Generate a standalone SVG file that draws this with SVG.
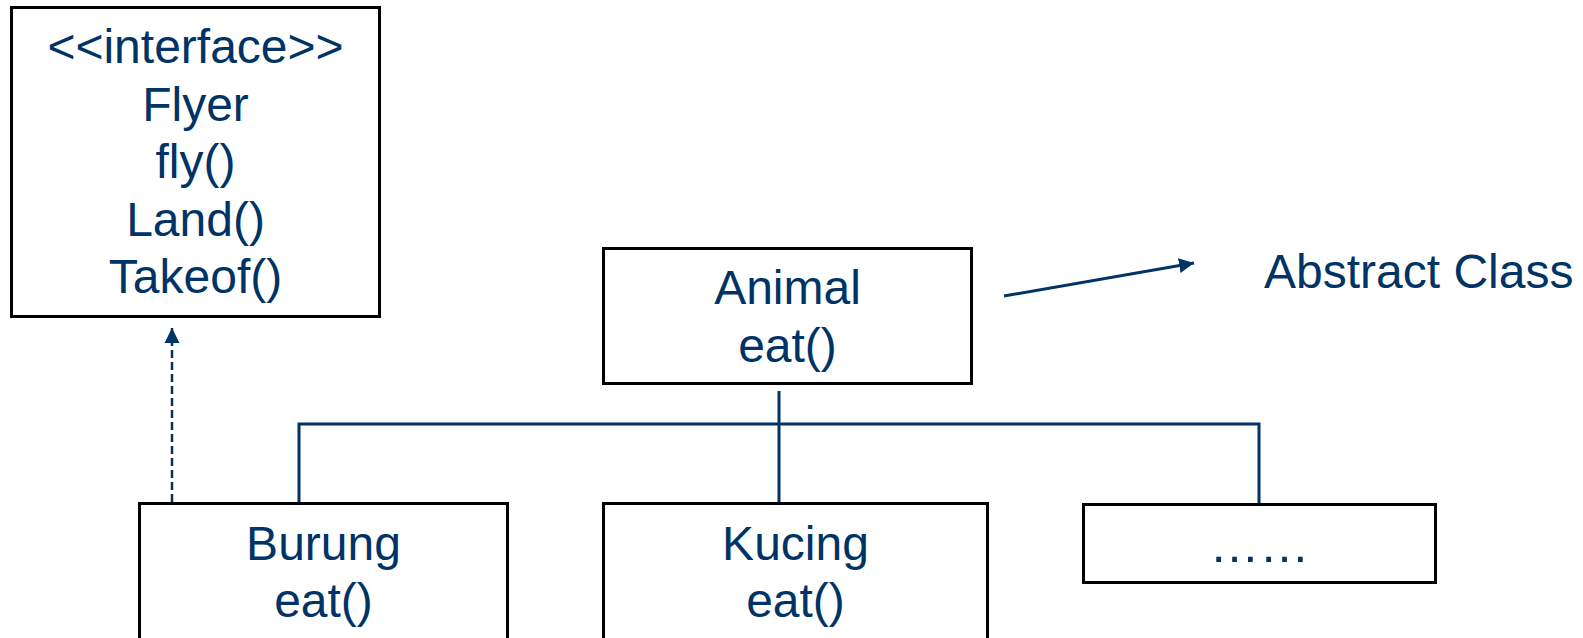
<svg xmlns="http://www.w3.org/2000/svg" width="1583" height="638" viewBox="0 0 1583 638">
<style>
  .box { fill: #ffffff; stroke: #000000; stroke-width: 3; }
  .t { font-family: "Liberation Sans", Arial, sans-serif; font-size: 48px; fill: #003366; text-anchor: middle; }
  .conn { fill: none; stroke: #003366; stroke-width: 3; }
  .dash { fill: none; stroke: #003366; stroke-width: 2.5; stroke-dasharray: 8 4; }
</style>
<defs>
  <marker id="arrow" viewBox="0 0 10 10" refX="10" refY="5" markerWidth="5" markerHeight="5" orient="auto" markerUnits="strokeWidth">
    <path d="M0,0 L10,5 L0,10 Z" fill="#003366"/>
  </marker>
  <marker id="arrowSmall" viewBox="0 0 10 10" refX="10" refY="5" markerWidth="6" markerHeight="6.4" orient="auto" markerUnits="strokeWidth">
    <path d="M0,0 L10,5 L0,10 Z" fill="#003366"/>
  </marker>
</defs>

<g id="connectors">
  <line class="conn" x1="779" y1="391" x2="779" y2="503"/>
  <polyline class="conn" points="299,503 299,424 1259,424 1259,503"/>
  <line class="dash" x1="172" y1="502" x2="172" y2="328" marker-end="url(#arrowSmall)"/>
  <line class="conn" x1="1004" y1="296" x2="1194" y2="263" marker-end="url(#arrow)"/>
</g>

<g id="interface-flyer">
  <rect class="box" x="11.5" y="7.5" width="368" height="309"/>
  <text class="t" x="195.5" y="63">&lt;&lt;interface&gt;&gt;</text>
  <text class="t" x="195.5" y="121">Flyer</text>
  <text class="t" x="195.5" y="178">fly()</text>
  <text class="t" x="195.5" y="236">Land()</text>
  <text class="t" x="195.5" y="293">Takeof()</text>
</g>

<g id="animal">
  <rect class="box" x="603.5" y="248.5" width="368" height="135"/>
  <text class="t" x="787.5" y="304">Animal</text>
  <text class="t" x="787.5" y="362">eat()</text>
</g>

<g id="abstract-label">
  <text class="t" x="1264" y="288" style="text-anchor:start">Abstract Class</text>
</g>

<g id="burung">
  <rect class="box" x="139.5" y="503.5" width="368" height="140"/>
  <text class="t" x="323.5" y="560">Burung</text>
  <text class="t" x="323.5" y="617">eat()</text>
</g>

<g id="kucing">
  <rect class="box" x="603.5" y="503.5" width="384" height="140"/>
  <text class="t" x="795.5" y="560">Kucing</text>
  <text class="t" x="795.5" y="617">eat()</text>
</g>

<g id="more">
  <rect class="box" x="1083.5" y="504.5" width="352" height="78"/>
  <text class="t" x="1259.5" y="562" style="font-size:50px">……</text>
</g>
</svg>
